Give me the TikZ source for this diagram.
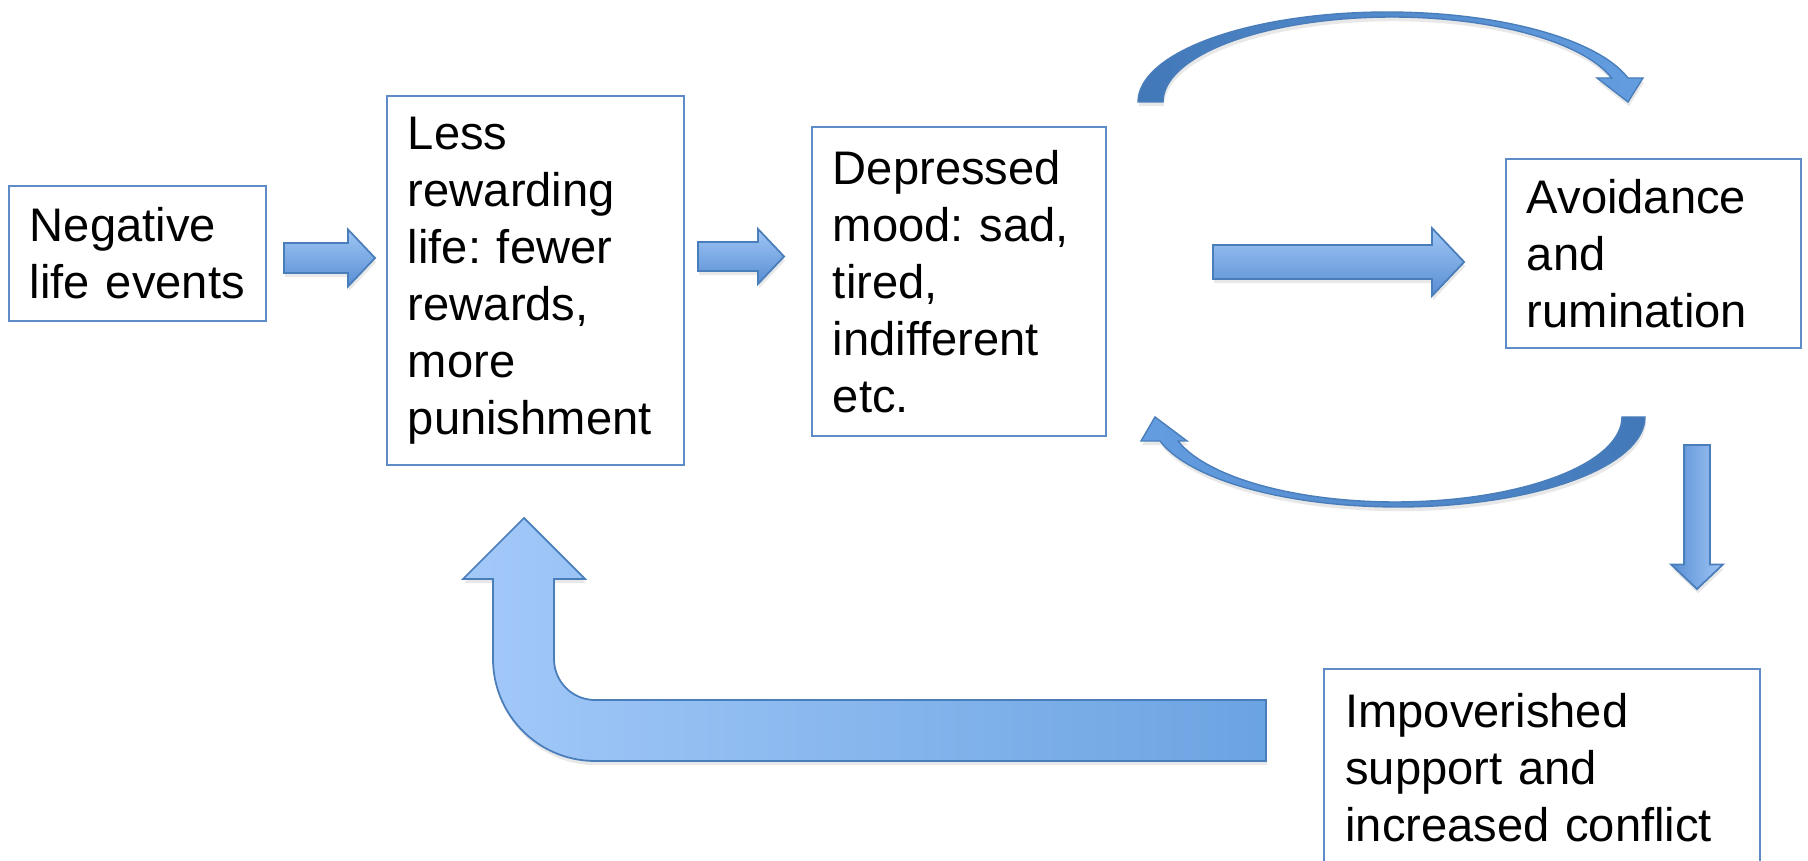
\documentclass[tikz,border=0pt]{standalone}
\usepackage{fontspec}
\setmainfont{Liberation Sans}
\usetikzlibrary{shapes.arrows,shadows}

\definecolor{boxline}{RGB}{95,140,200}
\definecolor{arrline}{RGB}{74,126,187}
\definecolor{arrtop}{RGB}{160,198,245}
\definecolor{arrbot}{RGB}{88,142,212}
\definecolor{curvdark}{RGB}{66,120,184}
\definecolor{curvlight}{RGB}{100,158,225}
\definecolor{uturnlight}{RGB}{166,203,250}
\definecolor{uturndark}{RGB}{79,145,214}

\pgfdeclarehorizontalshading{uturnshade}{100bp}{color(0bp)=(uturnlight); color(22bp)=(uturnlight); color(100bp)=(uturndark)}

\tikzset{
  box/.style={draw=boxline, line width=0.6pt, align=left, inner xsep=0.21cm, inner ysep=0pt,
    font=\fontsize{13.4}{16.2}\selectfont\frenchspacing},
  softshadow/.style={drop shadow={opacity=0.18, shadow xshift=0.3pt, shadow yshift=-1.2pt}},
  fatarrow/.style={single arrow, draw=arrline, line width=0.5pt,
    single arrow tip angle=93, anchor=tail, softshadow},
  hshade/.style={top color=arrtop, bottom color=arrbot},
  curved/.style={draw=arrline, line width=0.4pt, softshadow}
}

\begin{document}
\begin{tikzpicture}[x=0.01cm, y=-0.01cm]
\fill[white] (0,0) rectangle (1808,861);
\useasboundingbox (0,0) rectangle (1808,861);

% boxes
\node[box, text width=2.15cm, minimum height=1.35cm] (neg) at (137.5,253.5) {Negative\\life events};
\node[box, text width=2.55cm, minimum height=3.69cm] (less) at (535.5,280.5) {Less\\rewarding\\life: fewer\\rewards,\\more\\punishment};
\node[box, text width=2.52cm, minimum height=3.09cm] (dep) at (959,281.5) {Depressed\\mood: sad,\\tired,\\indifferent\\etc.};
\node[box, text width=2.53cm, minimum height=1.89cm] (avoid) at (1653.5,253.5) {Avoidance\\and\\rumination};
\node[box, text width=3.93cm, minimum height=1.98cm] (impov) at (1542,768) {Impoverished\\support and\\increased conflict};

% straight arrows (inner sep = half the shaft)
\node[fatarrow, hshade, inner sep=0.14cm, minimum height=0.91cm, minimum width=0.55cm, single arrow head extend=0.135cm] (a1) at ([shift={(16,4.5)}]neg.east) {};
\node[fatarrow, hshade, inner sep=0.135cm, minimum height=0.86cm, minimum width=0.53cm, single arrow head extend=0.13cm] (a2) at ([shift={(12,-24)}]less.east) {};
\node[fatarrow, hshade, inner sep=0.16cm, minimum height=2.51cm, minimum width=0.66cm, single arrow head extend=0.17cm] (a3) at ([shift={(105,-19.5)}]dep.east) {};
\node[fatarrow, shape border rotate=270, left color=arrbot, right color=arrtop, inner sep=0.12cm, minimum height=1.44cm, minimum width=0.50cm, single arrow head extend=0.13cm] (a4) at ([shift={(43.5,95)}]avoid.south) {};

% curved arrows between mood and avoidance
\shadedraw[curved, left color=curvdark, right color=curvlight] (1138,102)
  -- plot[domain=180:344.53, samples=60] ({1387.5+249.5*cos(\x)},{102+90*sin(\x)})
  -- (1643,78) -- (1628,102) -- (1597,78)
  -- plot[domain=343.6:180, samples=60] ({1392+229*cos(\x)},{102+85*sin(\x)}) -- cycle;
\shadedraw[curved, left color=curvlight, right color=curvdark] (1645,417)
  -- plot[domain=0:164.53, samples=60] ({1398+247*cos(\x)},{417+90*sin(\x)})
  -- (1141,441) -- (1155,417) -- (1187,441)
  -- plot[domain=163.6:0, samples=60] ({1395.4+226.6*cos(\x)},{417+85*sin(\x)}) -- cycle;

% feedback arrow back to less rewarding life
\shadedraw[shading=uturnshade, draw=arrline, line width=0.5pt, softshadow] (1266,700) -- (595,700)
  -- plot[domain=90:180, samples=20] ({595+41*cos(\x)},{659+41*sin(\x)})
  -- (554,579) -- (585,579) -- (524,518) -- (463,579) -- (493,579) -- (493,659)
  -- plot[domain=180:90, samples=30] ({595+102*cos(\x)},{659+102*sin(\x)})
  -- (1266,761) -- cycle;
\end{tikzpicture}
\end{document}
